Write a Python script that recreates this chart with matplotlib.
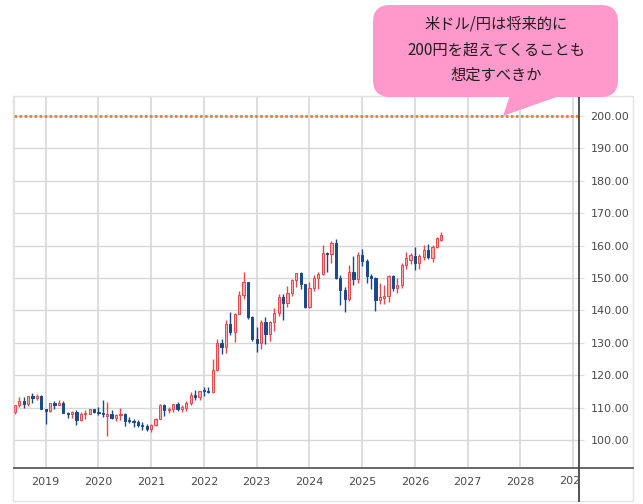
import matplotlib
matplotlib.use('Agg')
import matplotlib.pyplot as plt
from matplotlib.patches import FancyBboxPatch, Polygon, Rectangle
from matplotlib.lines import Line2D
from matplotlib.transforms import Bbox, IdentityTransform
import numpy as np
import pandas as pd

# monthly USD/JPY candles, Jun 2018 - Jul 2026
months = pd.period_range('2018-06', '2026-07', freq='M')

opens = [108.8, 110.7, 111.9, 111.0, 113.7, 112.9, 113.5,
         109.6, 108.9, 111.4, 110.9, 111.4, 108.3, 107.9, 108.6, 106.3, 108.0, 108.1, 109.5,
         108.7, 108.4, 107.5, 108.0, 106.9, 107.8, 107.9, 105.9, 105.8, 105.5, 104.7, 104.3,
         103.3, 104.7, 106.6, 110.7, 109.3, 109.6, 111.1, 109.7, 110.0, 111.3, 114.0, 113.2,
         115.1, 115.0, 114.9, 121.7, 129.8, 128.7, 135.7, 133.3, 139.0, 144.7, 148.7, 138.1,
         131.1, 130.1, 136.3, 132.8, 136.3, 139.3, 144.3, 142.3, 145.5, 149.4, 151.7, 148.2,
         141.0, 146.9, 150.0, 151.3, 157.8, 157.3, 160.9, 150.0, 146.2, 143.6, 152.0, 149.8,
         157.2, 155.2, 150.6, 149.9, 143.1, 143.9, 144.4, 150.7, 147.0, 147.9, 154.0, 155.6,
         156.8, 154.7, 156.5, 158.8, 156.3, 159.7, 161.8]
highs = [110.9, 113.2, 113.2, 113.7, 114.5, 114.2, 113.8,
         109.7, 111.5, 112.1, 112.4, 112.0, 108.8, 109.0, 109.3, 108.5, 109.3, 109.7, 109.7,
         110.3, 112.2, 111.7, 109.4, 108.1, 109.9, 108.2, 107.0, 106.6, 106.1, 105.7, 104.8,
         104.9, 106.7, 111.0, 111.0, 110.2, 111.1, 111.7, 110.8, 112.1, 114.7, 115.5, 115.2,
         116.4, 116.3, 125.1, 131.3, 131.3, 137.0, 139.4, 139.1, 145.9, 151.9, 148.8, 138.2,
         134.8, 136.9, 137.9, 136.6, 140.9, 145.1, 145.1, 147.4, 149.7, 151.7, 151.9, 148.3,
         148.8, 150.9, 152.0, 160.2, 158.0, 161.3, 162.0, 150.9, 147.2, 153.9, 156.7, 158.1,
         158.9, 155.9, 151.3, 150.2, 148.6, 148.0, 150.9, 150.9, 150.0, 154.5, 157.9, 157.8,
         159.7, 157.5, 160.2, 160.5, 160.3, 162.7, 164.1]
lows = [108.1, 110.3, 109.8, 110.4, 111.4, 112.3, 109.6,
        104.9, 108.5, 109.7, 110.8, 108.3, 106.8, 106.8, 104.5, 105.9, 106.5, 107.9, 108.4,
        107.7, 107.0, 101.2, 106.4, 106.0, 106.1, 104.2, 105.1, 104.0, 104.0, 103.2, 102.9,
        102.6, 104.4, 106.4, 107.5, 108.3, 108.6, 109.1, 108.7, 109.1, 110.8, 112.5, 112.5,
        113.5, 114.4, 114.6, 121.3, 126.4, 126.9, 132.5, 130.4, 138.8, 143.5, 137.5, 130.6,
        127.2, 128.1, 129.6, 130.6, 133.5, 138.4, 137.2, 141.0, 144.4, 147.3, 146.7, 140.9,
        140.8, 145.9, 146.5, 150.8, 151.9, 154.5, 149.6, 141.7, 139.6, 143.0, 148.0, 148.6,
        153.7, 148.6, 146.5, 139.9, 142.1, 142.1, 142.7, 145.9, 145.5, 146.9, 152.8, 154.4,
        152.5, 152.8, 155.5, 155.8, 155.0, 159.2, 161.3]
closes = [110.7, 111.9, 111.0, 113.7, 112.9, 113.5, 109.7,
          108.9, 111.4, 110.9, 111.4, 108.3, 107.9, 108.6, 106.3, 108.1, 108.1, 109.5, 108.7,
          108.4, 107.9, 108.0, 106.9, 107.8, 107.9, 105.9, 105.8, 105.5, 104.7, 104.3, 103.3,
          104.7, 106.6, 110.7, 109.3, 109.6, 111.1, 109.7, 110.0, 111.3, 114.0, 113.2, 115.1,
          115.0, 114.9, 121.7, 129.8, 128.7, 135.7, 133.3, 139.0, 144.7, 148.7, 138.1, 131.1,
          130.1, 136.3, 132.8, 136.3, 139.3, 144.3, 142.3, 145.5, 149.4, 151.7, 148.2, 141.0,
          146.9, 150.0, 151.3, 157.8, 157.3, 160.9, 150.0, 146.2, 143.6, 152.0, 149.8, 157.2,
          155.2, 150.6, 149.9, 143.1, 144.0, 144.4, 150.7, 147.0, 147.9, 154.0, 156.3, 157.1,
          154.5, 156.8, 158.6, 156.6, 159.6, 162.3, 163.4]

year_ticks = list(range(2019, 2029))
price_ticks = list(range(100, 201, 10))
target_level = 200
callout_lines = ['米ドル/円は将来的に', '200円を超えてくることも', '想定すべきか']

W, H = 643, 504
fig = plt.figure(figsize=(W / 100, H / 100), dpi=100)
fig.patch.set_facecolor('white')

ax = fig.add_axes([14 / W, 37 / H, (578 - 14) / W, (467 - 96) / H])
ax.set_xlim(2018.40, 2029.09)
ax.set_ylim(91.67, 206.2)

x = np.array([p.year + (p.month - 1) / 12 for p in months])
o = np.array(opens)
c = np.array(closes)
up = c >= o

red_edge = '#e5484d'
red_fill = '#f7aaa6'
blue = '#17498c'

ax.vlines(x[up], np.array(lows)[up], np.array(highs)[up], color=red_edge, lw=1.0, zorder=3)
ax.vlines(x[~up], np.array(lows)[~up], np.array(highs)[~up], color=blue, lw=1.0, zorder=3)

bottoms = np.minimum(o, c)
heights = np.maximum(np.abs(c - o), 0.35)
w = 0.042
ax.bar(x[up], heights[up], bottom=bottoms[up], width=w, color=red_fill,
       edgecolor=red_edge, linewidth=0.7, zorder=4)
ax.bar(x[~up], heights[~up], bottom=bottoms[~up], width=w, color=blue,
       edgecolor=blue, linewidth=0.7, zorder=4)

# grid
for yr in year_ticks + [2029]:
    ax.axvline(yr, color='#d4d4d4', lw=1.1, zorder=1)
for p in price_ticks:
    ax.axhline(p, color='#d8d8d8', lw=1.0, zorder=1)

ax.axhline(target_level, color='#f07a1e', lw=1.9, linestyle=(0, (1, 0.9)),
           dash_capstyle='butt', zorder=5)

ax.set_xticks(year_ticks)
ax.set_xticklabels([str(y) for y in year_ticks])
ax.yaxis.tick_right()
ax.set_yticks(price_ticks)
ax.set_yticklabels(['%.2f' % p for p in price_ticks])
ax.tick_params(axis='x', length=0, pad=7, labelsize=8, labelcolor='#4a4a4a')
ax.tick_params(axis='y', length=4, color='#dddddd', pad=5, labelsize=8, labelcolor='#4a4a4a')

for s in ['top', 'left']:
    ax.spines[s].set_color('#e4e4e4')
for s in ['right', 'bottom']:
    ax.spines[s].set_visible(False)

ident = IdentityTransform()
# outer light frame and dark axis lines
fig.add_artist(Rectangle((13, 3), 633 - 13, 408 - 3, transform=ident, fill=False,
                         edgecolor='#e2e2e2', lw=1.0))
fig.add_artist(Line2D([14, 633], [H - 467.5, H - 467.5], transform=ident, color='#5a5a5a', lw=1.3))
fig.add_artist(Line2D([578.5, 578.5], [3, H - 96], transform=ident, color='#444444', lw=1.3))

# clipped 2029 label
t = fig.text(0, 0, '2029', ha='center', va='center', fontsize=8, color='#4a4a4a')
t.set_transform(ident)
t.set_position((573.3, H - 481))
t.set_clip_box(Bbox([[0, 0], [578, H]]))
t.set_clip_on(True)

# callout
pink = '#ff99cc'
box = FancyBboxPatch((373, H - 97), 618 - 373, 97 - 5, transform=ident,
                     boxstyle='round,pad=0,rounding_size=17', facecolor=pink,
                     edgecolor='none', zorder=10)
fig.add_artist(box)
tail = Polygon([[510, H - 95], [562, H - 95], [503, H - 116]], closed=True,
               transform=ident, facecolor=pink, edgecolor='none', zorder=10)
fig.add_artist(tail)
for line, yc in zip(callout_lines, [24, 50, 75]):
    fig.text(496 / W, 1 - yc / H, line, ha='center', va='center', fontsize=11,
             color='#1e1e1e', family=['Noto Sans CJK JP', 'DejaVu Sans'], zorder=11)

fig.savefig('out.png', dpi=100)
